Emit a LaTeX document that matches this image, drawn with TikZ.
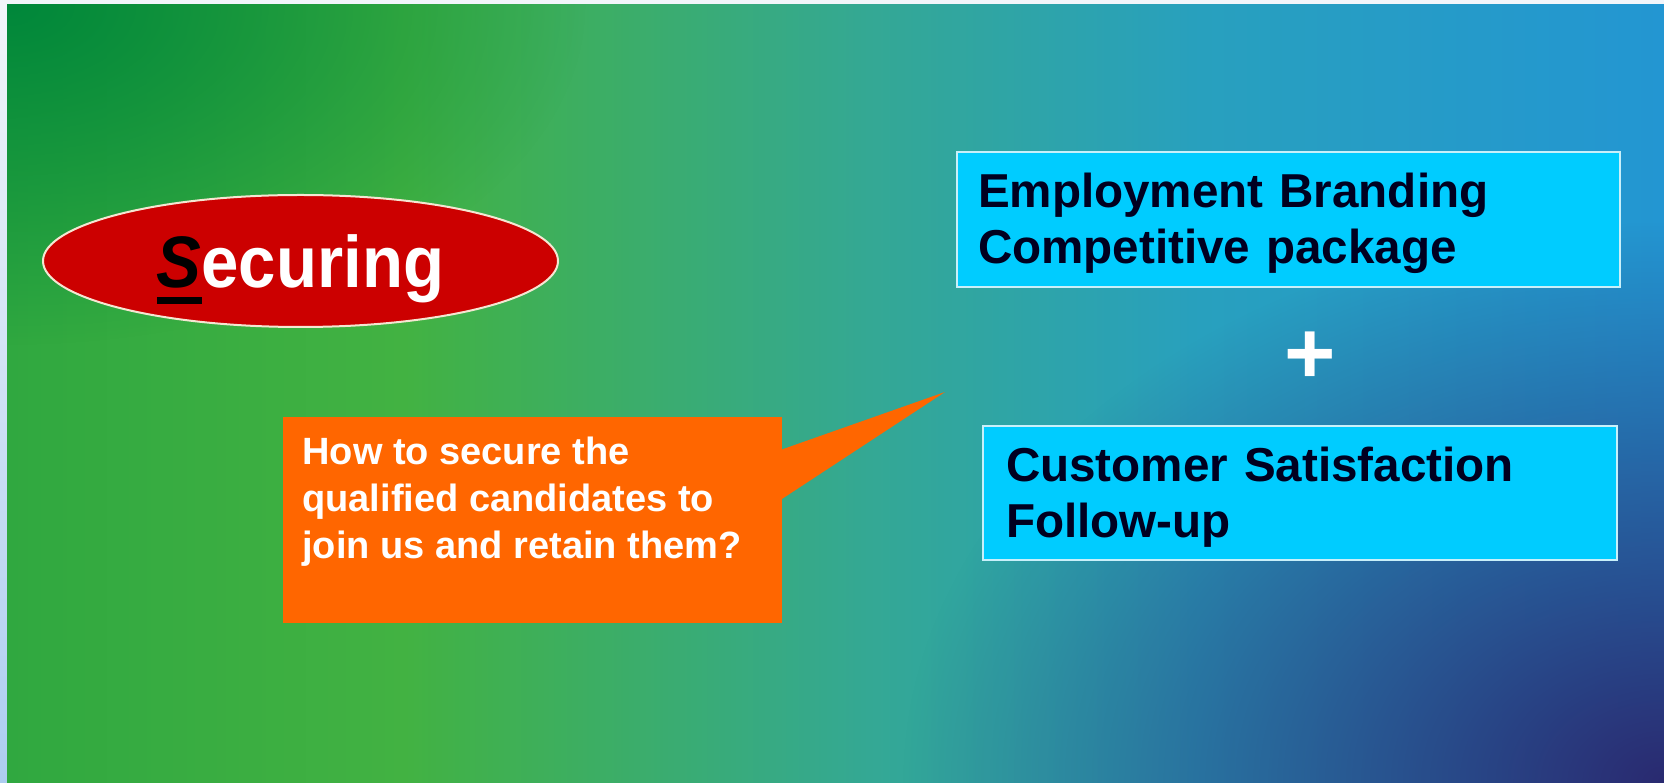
\documentclass[tikz,border=0pt]{standalone}
\usepackage{fontspec}
\setmainfont{Liberation Sans}
\newfontfamily\tallsans[FakeStretch=0.92]{Liberation Sans}
\usetikzlibrary{shapes.geometric,fadings}

\definecolor{bgleft}{RGB}{48,168,64}
\definecolor{bggreen}{RGB}{66,178,66}
\definecolor{bgteal}{RGB}{52,168,148}
\definecolor{bgcyan}{RGB}{40,160,190}
\definecolor{bgblue}{RGB}{35,150,210}
\definecolor{bgdark}{RGB}{0,135,58}
\definecolor{bgnavy}{RGB}{42,42,112}
\definecolor{striptop}{RGB}{242,245,250}
\definecolor{stripbot}{RGB}{172,205,240}
\definecolor{secred}{RGB}{204,0,0}
\definecolor{secedge}{RGB}{245,230,210}
\definecolor{askorange}{RGB}{255,102,0}
\definecolor{boxcyan}{RGB}{0,204,255}
\definecolor{boxedge}{RGB}{200,240,250}
\definecolor{boxink}{RGB}{0,0,32}
\pgfdeclarehorizontalshading{slidebg}{100bp}{color(0bp)=(bgleft); color(25bp)=(bgleft); color(37bp)=(bggreen); color(51bp)=(bgteal); color(61bp)=(bgcyan); color(75bp)=(bgblue); color(100bp)=(bgblue)}
\tikzfading[name=cornerfade, inner color=transparent!0, outer color=transparent!100]
\newcommand{\keyletter}[1]{\setbox0\hbox{\itshape #1}\rlap{\rule[-0.22em]{\wd0}{0.1em}}\box0}

\begin{document}
\begin{tikzpicture}[x=0.5pt,y=0.5pt,
	securing/.style={ellipse, fill=secred, draw=secedge, line width=1pt, minimum width=257.5pt, minimum height=66pt, inner sep=0pt, text=white, font=\tallsans\bfseries\fontsize{36.5}{40}\selectfont, text height=27pt, text depth=0pt},
	askbox/.style={fill=askorange, minimum width=249.5pt, minimum height=103pt, inner sep=0pt},
	asktext/.style={anchor=north west, inner sep=0pt, align=left, text=white, font=\bfseries\fontsize{19}{23.5}\selectfont},
	infobox/.style={fill=boxcyan, draw=boxedge, line width=0.75pt, align=left, inner ysep=0pt, text depth=29pt, text=boxink, font=\bfseries\fontsize{23.8}{28}\selectfont}]
	%\draw[help lines] (0,0) grid[step=100] (1664,782);
	\useasboundingbox (0,0) rectangle (1664,782);
	\fill[striptop] (0,777) rectangle (1664,782);
	\shade[top color=striptop, bottom color=stripbot] (0,0) rectangle (7,777);
	\begin{scope}
		\clip (7,0) rectangle (1664,777);
		\shade[shading=slidebg] (7,0) rectangle (1664,777);
		\fill[bgdark, path fading=cornerfade] (7,777) ellipse [x radius=580, y radius=340];
		\fill[bgnavy, path fading=cornerfade] (1664,0) ellipse [x radius=760, y radius=560];
	\end{scope}
	\node[securing] (sec) at (300.5,521) {{\color{black}\keyletter{S}}ecuring};
	\node[askbox] (ask) at (532.5,262) {};
	\coordinate (tip) at (945,390);
	\fill[askorange] ([xshift=-1pt,yshift=35pt]ask.east) -- (tip) -- ([xshift=-1pt,yshift=10pt]ask.east) -- cycle;
	\node[asktext] (askq) at (302,345) {How to secure the\\qualified candidates to\\join us and retain them?};
	\node[infobox, minimum height=67.5pt, inner xsep=10.5pt, text width=310.5pt] (brand) at (1288.5,562.5) {Employment Branding\\Competitive package};
	\node[font=\bfseries\fontsize{44}{44}\selectfont, text=white, inner sep=0pt] (plus) at (1310,424) {+};
	\node[infobox, minimum height=67pt, inner xsep=11.5pt, text width=294pt] (care) at (1300,289) {Customer Satisfaction\\Follow-up};
\end{tikzpicture}
\end{document}
